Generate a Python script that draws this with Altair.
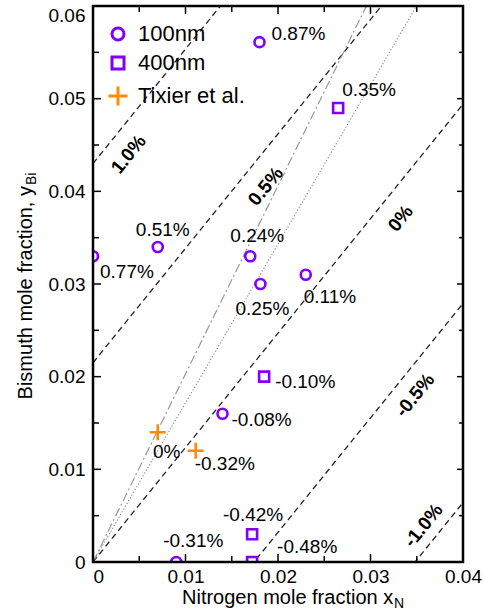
import altair as alt
import pandas as pd

# ---------------- data ----------------
nm100_x = [0.0180, 0.0000, 0.0070, 0.0170, 0.0181, 0.0230, 0.0140, 0.0090]
nm100_y = [0.0561, 0.0330, 0.0340, 0.0330, 0.0300, 0.0310, 0.0160, 0.0000]
nm100_lab = ["0.87%", "0.77%", "0.51%", "0.24%", "0.25%", "0.11%", "-0.08%", "-0.31%"]

nm400_x = [0.0265, 0.0185, 0.0172, 0.0172]
nm400_y = [0.0490, 0.0200, 0.0030, 0.0000]
nm400_lab = ["0.35%", "-0.10%", "-0.42%", "-0.48%"]

tix_x = [0.0070, 0.0111]
tix_y = [0.0140, 0.0120]
tix_lab = ["0%", "-0.32%"]

series_names = ["100nm", "400nm", "Tixier et al."]

strain_lab = ["1.0%", "0.5%", "0%", "-0.5%", "-1.0%"]
strain_icpt = [0.043, 0.0215, 0.0, -0.0215, -0.043]
strain_slope = 1.235
strain_lab_x = [0.0020, 0.0167, 0.0313, 0.0331, 0.0371]

dashdot_slope = 2.03
dotted_slope = 1.716

x_major = [0.0, 0.01, 0.02, 0.03, 0.04]
x_minor = [0.005, 0.015, 0.025, 0.035]
y_major = [0.0, 0.01, 0.02, 0.03, 0.04, 0.05, 0.06]
y_minor = [0.005, 0.015, 0.025, 0.035, 0.045, 0.055]

x_title = "Nitrogen mole fraction x"
x_title_sub = "N"
y_title = "Bismuth mole fraction, y"
y_title_sub = "Bi"

# ---------------- styles ----------------
FONT = "Liberation Sans"
PURPLE = "#7F00FF"
ORANGE = "#FF8C00"
W, H = 370, 556
XD, YD = [0, 0.04], [0, 0.06]

CIRCLE = "M-1,0A1,1,0,1,1,1,0A1,1,0,1,1,-1,0Z"
SQUARE = "M-1,-1H1V1H-1Z"
CROSS = "M-1.6,0H1.6M0,-1.6V1.6"

# label offsets (dx, dy, align) per point label
style_100 = [(12, -8, "left"), (7, 16, "left"), (5, -17, "center"), (7, -20, "center"),
             (2, 25, "center"), (-2, 22, "left"), (9, 6, "left"), (17, -21, "center")]
style_400 = [(4, -18, "left"), (11, 5, "left"), (1, -19, "center"), (25, -15, "left")]
style_tix = [(9, 20, "center"), (-1, 13, "left")]
strain_lab_dy = [22, 23.5, 23.3, 20.4, -16.4]

x_axis = alt.Axis(
    values=x_major, labelExpr="datum.value == 0 ? '0' : format(datum.value, '.2f')",
    domain=False, ticks=False, grid=False, title=None, labelFont=FONT, labelFontSize=19,
    labelColor="black", labelPadding=5, labelOverlap=False, labelFlush=False,
    labelAlign={"condition": {"test": "datum.value == 0", "value": "left"}, "value": "center"},
)
y_axis = alt.Axis(
    values=y_major, labelExpr="datum.value == 0 ? '0' : format(datum.value, '.2f')",
    domain=False, ticks=False, grid=False, title=None, labelFont=FONT, labelFontSize=19,
    labelColor="black", labelPadding=8, labelOverlap=False, labelFlush=False,
    labelBaseline={"condition": {"test": "datum.value > 0.059", "value": "top"}, "value": "middle"},
)


def X(f):
    return alt.X(f, type="quantitative", scale=alt.Scale(domain=XD, nice=False, zero=False), axis=x_axis)


def Y(f):
    return alt.Y(f, type="quantitative", scale=alt.Scale(domain=YD, nice=False, zero=False), axis=y_axis)


# ---------------- line data ----------------
rows = []
for lab, b in zip(strain_lab, strain_icpt):
    for xv in XD:
        rows.append({"line": lab, "x": xv, "y": b + strain_slope * xv})
df_strain = pd.DataFrame(rows)

df_dd = pd.DataFrame({"x": [0.0, 0.04], "y": [0.0, dashdot_slope * 0.04]})
df_dot = pd.DataFrame({"x": [0.0, 0.04], "y": [0.0, dotted_slope * 0.04]})

strain_lines = alt.Chart(df_strain).mark_line(
    clip=True, color="#222222", strokeWidth=1.3, strokeDash=[6, 4]
).encode(x=X("x"), y=Y("y"), detail="line:N")
dd_line = alt.Chart(df_dd).mark_line(
    clip=True, color="#999999", strokeWidth=1.2, strokeDash=[9, 3, 2, 3]
).encode(x=X("x"), y=Y("y"))
dot_line = alt.Chart(df_dot).mark_line(
    clip=True, color="#888888", strokeWidth=1.1, strokeDash=[1.2, 2]
).encode(x=X("x"), y=Y("y"))

# ---------------- points ----------------
pts = pd.DataFrame({
    "x": nm100_x + nm400_x + tix_x,
    "y": nm100_y + nm400_y + tix_y,
    "series": [series_names[0]] * len(nm100_x) + [series_names[1]] * len(nm400_x)
    + [series_names[2]] * len(tix_x),
    "label": nm100_lab + nm400_lab + tix_lab,
})

points = alt.Chart(pts).mark_point(
    clip=True, filled=False, size=100, strokeWidth=2.6, opacity=1
).encode(
    x=X("x"), y=Y("y"),
    color=alt.Color("series:N", scale=alt.Scale(domain=series_names, range=[PURPLE, PURPLE, ORANGE]),
                    legend=alt.Legend(title=None, orient="none", legendX=14, legendY=17)),
    shape=alt.Shape("series:N", scale=alt.Scale(domain=series_names, range=[CIRCLE, SQUARE, CROSS])),
)

# ---------------- point labels ----------------
label_layers = []
for xs, ys, labs, sty in [(nm100_x, nm100_y, nm100_lab, style_100),
                          (nm400_x, nm400_y, nm400_lab, style_400),
                          (tix_x, tix_y, tix_lab, style_tix)]:
    for xv, yv, lab, (dx, dy, al) in zip(xs, ys, labs, sty):
        d = pd.DataFrame({"x": [xv], "y": [yv], "t": [lab]})
        label_layers.append(
            alt.Chart(d).mark_text(font=FONT, fontSize=19, color="black", align=al,
                                   baseline="middle", dx=dx, dy=dy)
            .encode(x=X("x"), y=Y("y"), text="t:N")
        )

# ---------------- strain line labels ----------------
for lab, b, lx, dy in zip(strain_lab, strain_icpt, strain_lab_x, strain_lab_dy):
    d = pd.DataFrame({"x": [lx], "y": [b + strain_slope * lx], "t": [lab]})
    label_layers.append(
        alt.Chart(d).mark_text(font=FONT, fontSize=19, fontWeight="bold", color="black",
                               align="center", baseline="middle", angle=309, dy=dy)
        .encode(x=X("x"), y=Y("y"), text="t:N")
    )

# ---------------- inward ticks ----------------
TK_MAJ, TK_MIN = 8, 6
tick_layers = []
for vals, L in [(x_major, TK_MAJ), (x_minor, TK_MIN)]:
    d = pd.DataFrame({"x": vals})
    tick_layers.append(alt.Chart(d).mark_rule(color="black", strokeWidth=1.5)
                       .encode(x=X("x"), y=alt.value(H), y2=alt.value(H - L)))
    tick_layers.append(alt.Chart(d).mark_rule(color="black", strokeWidth=1.5)
                       .encode(x=X("x"), y=alt.value(0), y2=alt.value(L)))
for vals, L in [(y_major, TK_MAJ), (y_minor, TK_MIN)]:
    d = pd.DataFrame({"y": vals})
    tick_layers.append(alt.Chart(d).mark_rule(color="black", strokeWidth=1.5)
                       .encode(y=Y("y"), x=alt.value(0), x2=alt.value(L)))
    tick_layers.append(alt.Chart(d).mark_rule(color="black", strokeWidth=1.5)
                       .encode(y=Y("y"), x=alt.value(W), x2=alt.value(W - L + 2)))

# ---------------- frame ----------------
one = pd.DataFrame({"a": [0]})
frame = [
    alt.Chart(one).mark_rule(color="black", strokeWidth=2.5).encode(x=alt.value(0), y=alt.value(-1), y2=alt.value(H + 1)),
    alt.Chart(one).mark_rule(color="black", strokeWidth=2.5).encode(x=alt.value(W), y=alt.value(-1), y2=alt.value(H + 1)),
    alt.Chart(one).mark_rule(color="black", strokeWidth=2.5).encode(y=alt.value(0), x=alt.value(-1), x2=alt.value(W + 1)),
    alt.Chart(one).mark_rule(color="black", strokeWidth=2.5).encode(y=alt.value(H), x=alt.value(-1), x2=alt.value(W + 1)),
]

# ---------------- axis titles (with subscripts) ----------------
titles = [
    alt.Chart(pd.DataFrame({"t": [x_title]})).mark_text(font=FONT, fontSize=20, color="black", align="left",
                                                      baseline="alphabetic")
    .encode(x=alt.value(89), y=alt.value(598), text="t:N"),
    alt.Chart(pd.DataFrame({"t": [x_title_sub]})).mark_text(font=FONT, fontSize=14, color="black", align="left",
                                                          baseline="alphabetic")
    .encode(x=alt.value(301), y=alt.value(602), text="t:N"),
    alt.Chart(pd.DataFrame({"t": [y_title]})).mark_text(font=FONT, fontSize=20, color="black", align="right",
                                                      baseline="alphabetic", angle=270)
    .encode(x=alt.value(-61), y=alt.value(180), text="t:N"),
    alt.Chart(pd.DataFrame({"t": [y_title_sub]})).mark_text(font=FONT, fontSize=14, color="black", align="left",
                                                          baseline="alphabetic", angle=270)
    .encode(x=alt.value(-57), y=alt.value(179), text="t:N"),
]

chart = alt.layer(
    strain_lines, dd_line, dot_line, points, *label_layers, *tick_layers, *frame, *titles
).properties(
    width=W, height=H,
    autosize=alt.AutoSizeParams(type="none"),
    padding={"left": 93, "top": 6, "right": 21, "bottom": 48},
).configure(background="white").configure_view(stroke=None).configure_legend(
    labelFont=FONT, labelFontSize=22, labelColor="black", symbolSize=144, symbolStrokeWidth=3,
    rowPadding=5, labelOffset=9, padding=0, symbolOpacity=1,
)

chart.save("out.html", embed_options={"renderer": "svg", "actions": False})
